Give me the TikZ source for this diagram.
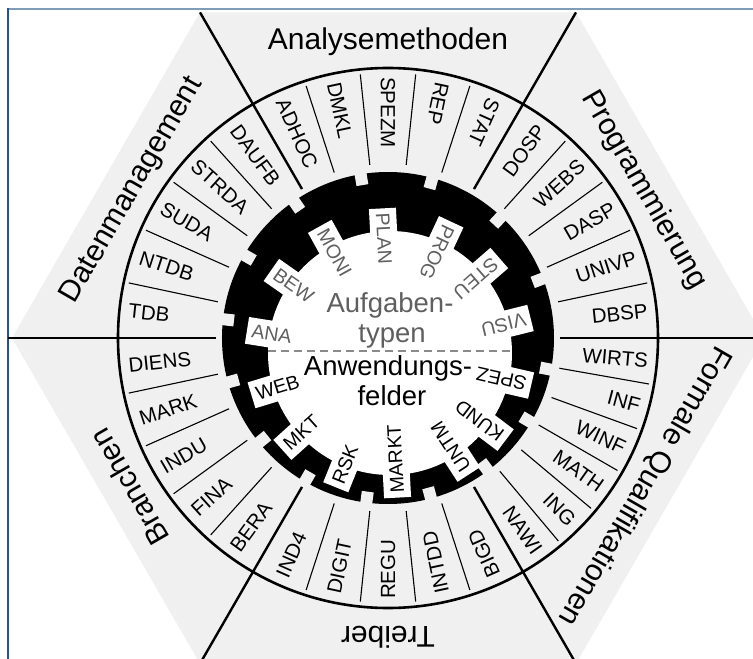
\documentclass[tikz,border=0pt]{standalone}
\usepackage{fontspec}
\setmainfont{Liberation Sans}
\usepackage{xcolor}
\usepackage{tikz}
\usetikzlibrary{
  arrows.meta,
}
\definecolor{hexgray}{HTML}{F0F0F0}
\definecolor{framelight}{HTML}{7F9DB9}
\definecolor{framedark}{HTML}{24519C}
\definecolor{taskgray}{HTML}{5F5F5F}
\definecolor{dashgray}{HTML}{8A8A8A}
\tikzset{
  title/.style={font=\fontsize{30}{36}\selectfont, text height=22pt, text depth=6pt, inner sep=0pt},
  ringlabel/.style={font=\fontsize{20.5}{24}\selectfont, inner sep=0pt},
  sepline/.style={line width=1.1pt},
  divider/.style={line width=2.4pt},
  taskbox/.style={
    fill=white,
    inner xsep=5pt,
    inner ysep=0pt,
    minimum height=27pt,
    font=\fontsize{19.5}{22}\selectfont,
    text=taskgray,
  },
  fieldbox/.style={taskbox, text=black},
  centertext/.style={font=\fontsize{27.5}{32}\selectfont, anchor=base, inner sep=0pt},
}

\begin{document}
\begin{tikzpicture}[x=1pt,y=1pt]
  \useasboundingbox (-388,-321) rectangle (365,338);
  \fill[white] (-388,-321) rectangle (365,338);

  % window frame
  \draw[framelight, line width=1.5pt] (-380,329) -- (365,329);
  \draw[framedark, line width=1.5pt] (-380,329.75) -- (-380,-321);

  % hexagon
  \fill[hexgray] (0:376) -- (60:376) -- (120:376) -- (180:376) -- (240:376) -- (300:376) -- cycle;

  % black gear ring
  \fill[black] (0,0) circle (166pt);
  \foreach \a in {21,47,74.5,99.5,124.5,150,173.5,195.5,219,240,262.5,285,307,329.5,349}
    \fill[hexgray, rotate=\a] (155,-6) rectangle (167,6);
  \fill[white] (2,-15) circle (122pt);

  % inner labels
  \begin{scope}[shift={(2,-15)}]
    \foreach \a/\lab in {14/VISU, 41/STEU, 65/PROG, 93/PLAN, 119/MONI, 145/BEW, 171/ANA}
      \node[taskbox, rotate=\a+180, anchor=west] (t\lab) at (\a:145) {\lab};
    \foreach \a/\lab in {-13/SPEZ, -37/KUND, -57/UNTM, -87/MARKT, -112/RSK, -138/MKT, -163/WEB}
      \node[fieldbox, rotate=\a+180, anchor=west] (f\lab) at (\a:145) {\lab};
  \end{scope}

  % centre
  \draw[dashgray, line width=1.8pt, dash pattern=on 8pt off 5pt] (-120,-13) -- (124,-13);
  \node[centertext, text=taskgray] (aufg) at (2,26) {Aufgaben-};
  \node[centertext, text=taskgray] (typen) at (4,-5) {typen};
  \node[centertext] (anw) at (0,-37) {Anwendungs-};
  \node[centertext] (felder) at (4,-67) {felder};

  % label ring
  \foreach \a in {12,24,36,48,72,84,96,108,132,144,156,168,192,204,216,228,252,264,276,288,310,320,330,340,350}
    \draw[sepline] (\a:174) -- (\a:265);
  \foreach \a in {0,60,120,240,300}
    \draw[divider] (\a:172) -- (\a:376);
  \draw[divider] (180:172) -- (-380,0);
  \draw[line width=2.6pt] (0,0) circle (270pt);

  \foreach \a/\lab in {6/DBSP, 18/UNIVP, 30/DASP, 42/WEBS, 54/DOSP, 305/NAWI, 315/ING, 325/MATH, 335/WINF, 345/INF, 355/WIRTS}
    \node[ringlabel, rotate=\a, anchor=east] (r\lab) at (\a:261) {\lab};
  \foreach \a/\lab in {66/STAT, 78/REP, 90/SPEZM, 102/DMKL, 114/ADHOC, 126/DAUFB, 138/STRDA, 150/SUDA, 162/NTDB, 174/TDB, 186/DIENS, 198/MARK, 210/INDU, 222/FINA, 234/BERA, 246/IND4, 258/DIGIT, 270/REGU, 282/INTDD, 294/BIGD}
    \node[ringlabel, rotate=\a+180, anchor=west] (r\lab) at (\a:261) {\lab};

  % sector titles
  \foreach \a/\nm/\lab in {90/analyse/Analysemethoden, 30/prog/Programmierung, -30/formal/Formale Qualifikationen, -90/treiber/Treiber, 210/branchen/Branchen, 150/daten/Datenmanagement}
    \node[title, rotate=\a-90] (\nm) at (\a:296) {\lab};
\end{tikzpicture}
\end{document}
